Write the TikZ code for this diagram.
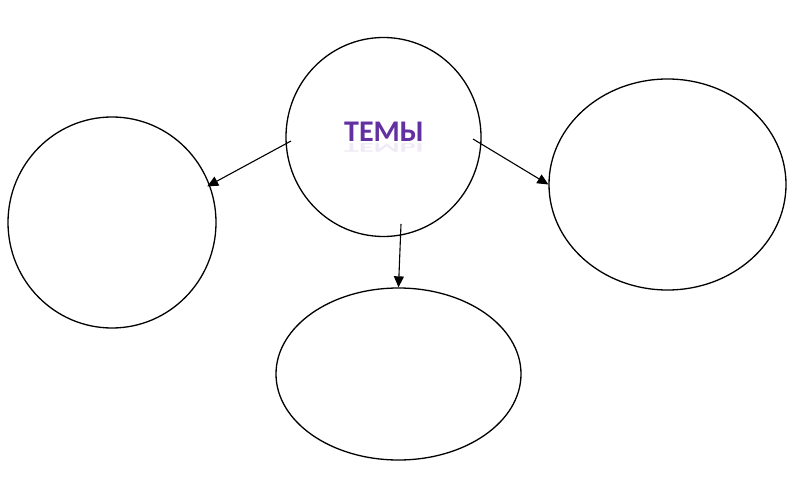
\documentclass[tikz,border=0pt]{standalone}
\usepackage{fontspec}
\setmainfont{Carlito}
\usetikzlibrary{shapes.geometric,arrows.meta,calc}
\definecolor{temacol}{RGB}{98,48,160}
\tikzset{
  bubble/.style={ellipse,draw=black,line width=1.3pt,inner sep=0pt},
  link/.style={draw=black,line width=1.1pt,-{Triangle[length=11pt,width=10pt]}}
}
\begin{document}
\begin{tikzpicture}[x=1pt,y=-1pt]
\useasboundingbox (0,0) rectangle (800,481);
\node[bubble,minimum width=195pt,minimum height=199pt] (c) at (383.5,137) {};
\node[bubble,minimum width=208pt,minimum height=211pt] (l) at (112,222.5) {};
\node[bubble,minimum width=237pt,minimum height=211pt] (r) at (667.5,184.5) {};
\node[bubble,minimum width=245pt,minimum height=172pt] (b) at (398.5,374) {};
\node[anchor=base,inner sep=0pt,text=temacol,font=\bfseries\fontsize{30}{30}\selectfont] (t) at (384,142) {ТЕМЫ};
\node[anchor=north,inner sep=0pt,text=temacol,text opacity=0.10,font=\bfseries\fontsize{30}{30}\selectfont] (tr) at (384,143) {\scalebox{1}[-0.45]{ТЕМЫ}};
\coordinate (s1) at ($(c.center)+(-92.5,4)$);
\coordinate (s2) at ($(c.center)+(89.5,2)$);
\coordinate (s3) at ($(c.center)+(17.5,87)$);
\draw[link,shorten >=-3pt] (s1) -- (l.21.6);
\draw[link] (s2) -- (r.west);
\draw[link] (s3) -- (b.north);
\end{tikzpicture}
\end{document}
